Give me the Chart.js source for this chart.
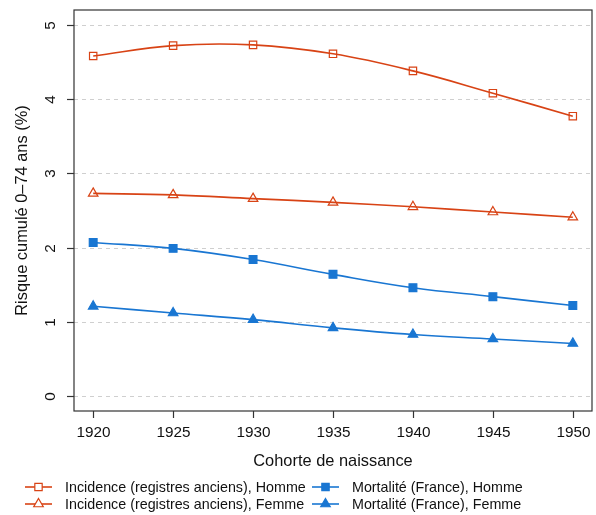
<!DOCTYPE html>
<html>
<head>
<meta charset="utf-8">
<script src="https://cdn.jsdelivr.net/npm/chart.js@4.4.1/dist/chart.umd.min.js"></script>
<style>
  body { margin: 0; background: #fff; }
  #wrap { width: 596px; height: 515px; }
</style>
</head>
<body>
<div id="wrap"><canvas id="chart"></canvas></div>
<script>
// Données
const cohortes = [1920, 1925, 1930, 1935, 1940, 1945, 1950];
const incidenceHomme = [4.58, 4.72, 4.73, 4.61, 4.38, 4.08, 3.77];
const incidenceFemme = [2.73, 2.71, 2.66, 2.61, 2.55, 2.48, 2.41];
const mortaliteHomme = [2.07, 1.99, 1.84, 1.64, 1.46, 1.34, 1.22];
const mortaliteFemme = [1.21, 1.12, 1.03, 0.92, 0.83, 0.77, 0.71];
const yTicks = [0, 1, 2, 3, 4, 5];

const ORANGE = '#D84315';
const BLUE = '#1976D2';
const FONT = "'Liberation Sans', Arial, sans-serif";

function pts(values) {
    return cohortes.map((c, i) => ({ x: c, y: values[i] }));
}

function serie(label, values, color, style, filled) {
    return {
        label: label,
        data: pts(values),
        borderColor: color,
        borderWidth: 1.6,
        tension: 0.4,
        pointStyle: style,
        pointRadius: style === 'triangle' ? 5.5 : (filled ? 5.5 : 5.2),
        pointBorderColor: color,
        pointBackgroundColor: filled ? color : 'rgba(0,0,0,0)',
        pointBorderWidth: 1.2,
        fill: false
    };
}

// ordre de la légende : ligne 1 = Homme, ligne 2 = Femme
const legendItems = [
    { label: 'Incidence (registres anciens), Homme', color: ORANGE, style: 'rect', filled: false, x: 25, y: 487 },
    { label: 'Mortalité (France), Homme', color: BLUE, style: 'rect', filled: true, x: 312, y: 487 },
    { label: 'Incidence (registres anciens), Femme', color: ORANGE, style: 'triangle', filled: false, x: 25, y: 504 },
    { label: 'Mortalité (France), Femme', color: BLUE, style: 'triangle', filled: true, x: 312, y: 504 }
];

const axesPlugin = {
    id: 'axesPlugin',
    beforeDatasetsDraw(chart) {
        const { ctx, chartArea: a, scales: { y } } = chart;
        ctx.save();
        ctx.strokeStyle = '#cfcfcf';
        ctx.lineWidth = 1;
        ctx.setLineDash([4, 4]);
        yTicks.forEach(v => {
            const py = Math.round(y.getPixelForValue(v)) + 0.5;
            ctx.beginPath();
            ctx.moveTo(a.left, py);
            ctx.lineTo(a.right, py);
            ctx.stroke();
        });
        ctx.restore();
    },
    afterDraw(chart) {
        const { ctx, chartArea: a, scales: { x, y } } = chart;
        ctx.save();
        // cadre
        ctx.strokeStyle = '#333';
        ctx.lineWidth = 1.2;
        ctx.strokeRect(a.left, a.top, a.right - a.left, a.bottom - a.top);

        // graduations y
        ctx.fillStyle = '#111';
        ctx.font = '15.3px ' + FONT;
        ctx.textAlign = 'center';
        ctx.textBaseline = 'middle';
        yTicks.forEach(v => {
            const py = Math.round(y.getPixelForValue(v)) + 0.5;
            ctx.beginPath();
            ctx.moveTo(a.left - 7, py);
            ctx.lineTo(a.left, py);
            ctx.stroke();
            ctx.save();
            ctx.translate(a.left - 23, py);
            ctx.rotate(-Math.PI / 2);
            ctx.fillText(String(v), 0, 0);
            ctx.restore();
        });

        // graduations x
        cohortes.forEach(v => {
            const px = Math.round(x.getPixelForValue(v)) + 0.5;
            ctx.beginPath();
            ctx.moveTo(px, a.bottom);
            ctx.lineTo(px, a.bottom + 7);
            ctx.stroke();
            ctx.fillText(String(v), px, a.bottom + 22);
        });

        // titres
        ctx.font = '16.4px ' + FONT;
        ctx.fillText('Cohorte de naissance', (a.left + a.right) / 2, 461);
        ctx.save();
        ctx.translate(22, (a.top + a.bottom) / 2);
        ctx.rotate(-Math.PI / 2);
        ctx.fillText('Risque cumulé 0–74 ans (%)', 0, 0);
        ctx.restore();

        // légende
        ctx.font = '14.3px ' + FONT;
        ctx.textAlign = 'left';
        legendItems.forEach(it => {
            ctx.strokeStyle = it.color;
            ctx.lineWidth = 1.6;
            ctx.beginPath();
            ctx.moveTo(it.x, it.y);
            ctx.lineTo(it.x + 27, it.y);
            ctx.stroke();
            ctx.fillStyle = it.filled ? it.color : '#fff';
            ctx.lineWidth = 1.2;
            Chart.helpers.drawPoint(ctx, {
                pointStyle: it.style,
                radius: it.style === 'triangle' ? 5.5 : 5.2,
                borderWidth: 1.2,
                rotation: 0
            }, it.x + 13.5, it.y);
            ctx.fillStyle = '#111';
            ctx.fillText(it.label, it.x + 40, it.y + 1);
        });
        ctx.restore();
    }
};

new Chart(document.getElementById('chart'), {
    type: 'line',
    data: {
        datasets: [
            serie('Incidence (registres anciens), Homme', incidenceHomme, ORANGE, 'rect', false),
            serie('Incidence (registres anciens), Femme', incidenceFemme, ORANGE, 'triangle', false),
            serie('Mortalité (France), Homme', mortaliteHomme, BLUE, 'rect', true),
            serie('Mortalité (France), Femme', mortaliteFemme, BLUE, 'triangle', true)
        ]
    },
    options: {
        responsive: true,
        maintainAspectRatio: false,
        animation: false,
        layout: { autoPadding: false, padding: { left: 74, right: 4, top: 10, bottom: 104 } },
        plugins: {
            legend: { display: false },
            tooltip: { enabled: false }
        },
        scales: {
            x: {
                type: 'linear',
                min: 1918.8,
                max: 1951.2,
                afterBuildTicks: s => { s.ticks = cohortes.map(v => ({ value: v })); },
                ticks: { display: false },
                grid: { display: false, drawTicks: false },
                border: { display: false }
            },
            y: {
                min: -0.2,
                max: 5.2,
                afterBuildTicks: s => { s.ticks = yTicks.map(v => ({ value: v })); },
                ticks: { display: false },
                grid: { display: false, drawTicks: false },
                border: { display: false }
            }
        }
    },
    plugins: [axesPlugin]
});
</script>
</body>
</html>
